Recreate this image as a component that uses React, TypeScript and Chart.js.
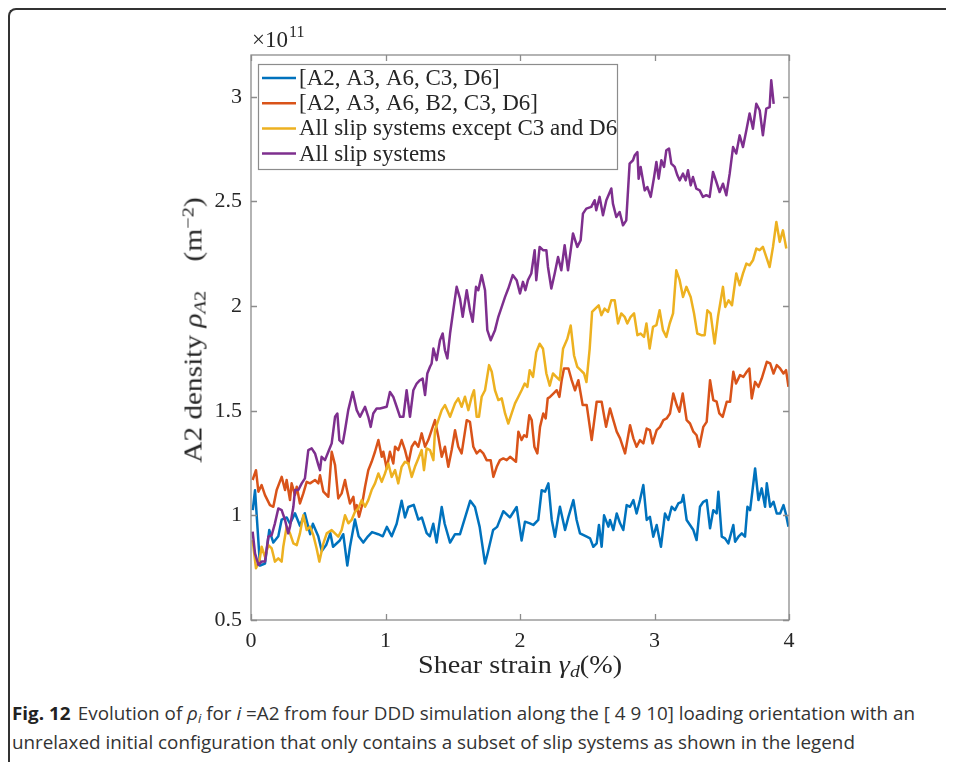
import React, { useEffect, useLayoutEffect, useRef } from "react";
import { Chart, registerables } from "chart.js";

Chart.register(...registerables);

// ---------- data ----------
const xTicks = [0, 1, 2, 3, 4];
const xTickLabels = ["0", "1", "2", "3", "4"];
const yTicks = [0.5, 1, 1.5, 2, 2.5, 3];
const yTickLabels = ["0.5", "1", "1.5", "2", "2.5", "3"];

const seriesLabels = [
  "[A2, A3, A6, C3, D6]",
  "[A2, A3, A6, B2, C3, D6]",
  "All slip systems except C3 and D6",
  "All slip systems",
];
const seriesColors = ["#0072BD", "#D95319", "#EDB120", "#7E2F8E"];

const blueSeries = [
  [0.013, 1.025], [0.03, 1.12], [0.067, 0.76], [0.104, 0.77], [0.136, 0.93], [0.166, 0.87],
  [0.203, 0.9], [0.228, 0.98], [0.265, 0.99], [0.29, 0.96], [0.327, 1.01], [0.364, 0.95],
  [0.4, 1.01], [0.44, 0.91], [0.46, 0.96], [0.5, 0.9], [0.526, 0.83], [0.56, 0.86],
  [0.59, 0.915], [0.61, 0.85], [0.66, 0.88], [0.686, 0.91], [0.716, 0.76], [0.736, 0.85],
  [0.773, 0.98], [0.8, 0.9], [0.835, 0.87], [0.87, 0.9], [0.9, 0.92], [0.946, 0.91],
  [0.98, 0.9], [1.01, 0.945], [1.046, 0.9], [1.083, 0.96], [1.12, 1.07], [1.145, 0.99],
  [1.17, 1.04], [1.21, 1.05], [1.244, 0.98], [1.27, 0.99], [1.306, 0.915], [1.33, 0.9],
  [1.355, 0.96], [1.38, 0.87], [1.418, 1.04], [1.44, 0.96], [1.48, 0.87], [1.517, 0.91],
  [1.554, 0.91], [1.63, 1.07], [1.665, 1.04], [1.7, 0.945], [1.74, 0.77], [1.76, 0.82],
  [1.8, 0.93], [1.83, 0.945], [1.876, 1.02], [1.925, 0.99], [1.975, 1.04], [2.012, 0.88],
  [2.037, 0.97], [2.074, 0.962], [2.099, 0.954], [2.136, 0.978], [2.161, 1.12], [2.186, 1.113],
  [2.211, 1.153], [2.236, 0.978], [2.26, 0.898], [2.297, 1.041], [2.335, 0.93], [2.36, 0.993],
  [2.397, 1.073], [2.421, 0.978], [2.446, 0.914], [2.496, 0.898], [2.521, 0.89], [2.545, 0.85],
  [2.57, 0.866], [2.587, 0.954], [2.607, 0.85], [2.625, 1.0], [2.657, 0.946], [2.669, 0.978],
  [2.694, 0.93], [2.719, 1.009], [2.744, 0.962], [2.768, 0.93], [2.793, 1.049], [2.818, 1.041],
  [2.843, 1.073], [2.867, 1.009], [2.892, 1.073], [2.917, 1.145], [2.942, 0.978], [2.966, 0.993],
  [2.991, 0.898], [3.016, 0.954], [3.048, 0.85], [3.078, 1.009], [3.103, 0.978], [3.128, 1.041],
  [3.152, 1.025], [3.177, 1.057], [3.202, 1.065], [3.214, 1.097], [3.239, 0.978], [3.264, 0.954],
  [3.289, 0.93], [3.313, 0.882], [3.338, 1.041], [3.363, 1.065], [3.388, 1.073], [3.413, 0.938],
  [3.437, 1.025], [3.462, 1.009], [3.475, 1.113], [3.5, 0.898], [3.524, 0.89], [3.549, 0.866],
  [3.586, 0.954], [3.599, 0.874], [3.624, 0.898], [3.649, 0.914], [3.673, 0.898], [3.691, 1.041],
  [3.711, 1.025], [3.748, 1.224], [3.773, 1.073], [3.797, 1.129], [3.822, 1.041], [3.835, 1.153],
  [3.86, 1.041], [3.885, 1.065], [3.909, 1.009], [3.934, 1.009], [3.959, 1.049], [3.976, 1.009],
  [3.996, 0.946],
];

const redSeries = [
  [0.012, 1.169], [0.037, 1.216], [0.055, 1.113], [0.079, 1.145], [0.104, 1.097], [0.141, 1.049],
  [0.166, 1.041], [0.191, 1.121], [0.228, 1.184], [0.253, 1.121], [0.265, 1.169], [0.29, 1.073],
  [0.302, 1.153], [0.327, 1.097], [0.34, 1.137], [0.364, 1.057], [0.389, 1.105], [0.414, 1.16],
  [0.439, 1.153], [0.476, 1.169], [0.501, 1.153], [0.513, 1.192], [0.538, 1.113], [0.575, 1.089],
  [0.6, 1.304], [0.625, 1.24], [0.649, 1.081], [0.674, 1.105], [0.699, 1.169], [0.711, 1.129],
  [0.736, 1.057], [0.761, 1.089], [0.773, 1.025], [0.786, 1.049], [0.803, 0.993], [0.823, 1.041],
  [0.848, 1.137], [0.872, 1.216], [0.897, 1.256], [0.922, 1.304], [0.947, 1.36], [0.972, 1.28],
  [0.984, 1.304], [1.009, 1.224], [1.033, 1.304], [1.058, 1.248], [1.071, 1.328], [1.095, 1.312],
  [1.12, 1.36], [1.145, 1.312], [1.17, 1.248], [1.195, 1.328], [1.219, 1.352], [1.244, 1.328],
  [1.269, 1.392], [1.294, 1.328], [1.318, 1.36], [1.343, 1.407], [1.368, 1.455], [1.393, 1.375],
  [1.418, 1.28], [1.442, 1.328], [1.467, 1.232], [1.492, 1.312], [1.517, 1.407], [1.541, 1.328],
  [1.566, 1.296], [1.604, 1.455], [1.628, 1.447], [1.653, 1.328], [1.678, 1.296], [1.703, 1.312],
  [1.727, 1.296], [1.752, 1.264], [1.782, 1.264], [1.802, 1.184], [1.827, 1.232], [1.851, 1.264],
  [1.876, 1.272], [1.901, 1.264], [1.926, 1.28], [1.97, 1.256], [1.988, 1.4], [2.012, 1.36],
  [2.03, 1.383], [2.05, 1.375], [2.069, 1.479], [2.087, 1.455], [2.107, 1.328], [2.129, 1.296],
  [2.149, 1.423], [2.173, 1.487], [2.191, 1.463], [2.206, 1.559], [2.223, 1.566], [2.248, 1.582],
  [2.273, 1.598], [2.293, 1.566], [2.31, 1.646], [2.327, 1.702], [2.36, 1.702], [2.384, 1.646],
  [2.409, 1.598], [2.434, 1.646], [2.466, 1.527], [2.496, 1.527], [2.533, 1.36], [2.57, 1.543],
  [2.607, 1.543], [2.62, 1.495], [2.64, 1.423], [2.669, 1.511], [2.694, 1.455], [2.719, 1.4],
  [2.744, 1.368], [2.781, 1.296], [2.818, 1.431], [2.843, 1.368], [2.867, 1.328], [2.892, 1.36],
  [2.917, 1.344], [2.942, 1.415], [2.966, 1.407], [2.986, 1.344], [3.016, 1.407], [3.041, 1.423],
  [3.066, 1.455], [3.09, 1.463], [3.115, 1.487], [3.14, 1.582], [3.165, 1.527], [3.185, 1.495],
  [3.21, 1.582], [3.239, 1.455], [3.264, 1.439], [3.289, 1.4], [3.313, 1.383], [3.333, 1.328],
  [3.363, 1.423], [3.388, 1.447], [3.413, 1.646], [3.437, 1.551], [3.462, 1.543], [3.482, 1.487],
  [3.507, 1.471], [3.537, 1.543], [3.562, 1.543], [3.586, 1.686], [3.606, 1.63], [3.636, 1.67],
  [3.661, 1.662], [3.686, 1.686], [3.705, 1.702], [3.723, 1.559], [3.748, 1.638], [3.773, 1.614],
  [3.797, 1.654], [3.835, 1.734], [3.86, 1.726], [3.885, 1.678], [3.909, 1.718], [3.934, 1.702],
  [3.959, 1.678], [3.978, 1.694], [3.996, 1.614],
];

const yellowSeries = [
  [0.012, 0.882], [0.037, 0.747], [0.062, 0.779], [0.079, 0.85], [0.104, 0.802], [0.129, 0.858],
  [0.154, 0.842], [0.178, 0.779], [0.203, 0.795], [0.228, 0.779], [0.24, 0.85], [0.265, 0.946],
  [0.29, 0.914], [0.315, 0.866], [0.34, 0.858], [0.364, 0.914], [0.389, 1.001], [0.414, 0.93],
  [0.439, 0.946], [0.463, 0.906], [0.488, 0.842], [0.508, 0.779], [0.538, 0.866], [0.563, 0.914],
  [0.6, 0.93], [0.649, 0.898], [0.674, 0.93], [0.699, 1.001], [0.724, 0.962], [0.748, 0.978],
  [0.773, 1.017], [0.798, 1.033], [0.823, 1.073], [0.848, 1.041], [0.872, 1.073], [0.897, 1.121],
  [0.922, 1.153], [0.947, 1.2], [0.972, 1.16], [0.996, 1.2], [1.021, 1.248], [1.046, 1.184],
  [1.071, 1.216], [1.095, 1.153], [1.12, 1.232], [1.145, 1.256], [1.17, 1.248], [1.195, 1.184],
  [1.219, 1.232], [1.244, 1.272], [1.269, 1.312], [1.286, 1.216], [1.306, 1.32], [1.331, 1.312],
  [1.356, 1.264], [1.368, 1.407], [1.393, 1.455], [1.418, 1.503], [1.442, 1.527], [1.48, 1.471],
  [1.517, 1.535], [1.541, 1.559], [1.566, 1.519], [1.591, 1.567], [1.616, 1.503], [1.641, 1.567],
  [1.658, 1.598], [1.678, 1.471], [1.695, 1.471], [1.715, 1.567], [1.74, 1.598], [1.77, 1.718],
  [1.79, 1.686], [1.814, 1.598], [1.839, 1.551], [1.864, 1.559], [1.889, 1.487], [1.913, 1.439],
  [1.938, 1.487], [1.963, 1.535], [1.988, 1.567], [2.012, 1.598], [2.035, 1.63], [2.055, 1.614],
  [2.072, 1.694], [2.097, 1.662], [2.121, 1.78], [2.146, 1.82], [2.171, 1.796], [2.196, 1.678],
  [2.221, 1.62], [2.245, 1.678], [2.27, 1.662], [2.295, 1.646], [2.32, 1.796], [2.352, 1.844],
  [2.377, 1.907], [2.402, 1.764], [2.426, 1.71], [2.451, 1.694], [2.476, 1.678], [2.494, 1.637],
  [2.518, 1.796], [2.536, 1.972], [2.56, 1.988], [2.585, 2.004], [2.605, 1.957], [2.629, 1.988],
  [2.654, 1.972], [2.679, 2.028], [2.704, 2.028], [2.729, 1.917], [2.753, 1.965], [2.778, 1.949],
  [2.798, 1.917], [2.823, 1.949], [2.848, 1.965], [2.873, 1.861], [2.897, 1.869], [2.922, 1.853],
  [2.94, 1.917], [2.964, 1.797], [2.989, 1.901], [3.014, 1.909], [3.038, 1.98], [3.063, 1.885],
  [3.088, 1.853], [3.113, 1.917], [3.138, 1.965], [3.162, 2.171], [3.187, 2.124], [3.212, 2.044],
  [3.237, 2.092], [3.269, 2.044], [3.294, 1.965], [3.318, 1.869], [3.348, 1.861], [3.373, 1.861],
  [3.393, 1.98], [3.417, 1.965], [3.447, 1.821], [3.472, 1.949], [3.509, 2.092], [3.526, 1.996],
  [3.551, 2.028], [3.576, 2.004], [3.608, 2.156], [3.633, 2.1], [3.658, 2.156], [3.683, 2.203],
  [3.707, 2.195], [3.732, 2.219], [3.757, 2.275], [3.782, 2.267], [3.806, 2.283], [3.831, 2.235],
  [3.856, 2.187], [3.881, 2.283], [3.906, 2.402], [3.931, 2.307], [3.955, 2.362], [3.98, 2.275],
];

const purpleSeries = [
  [0.012, 0.922], [0.03, 0.818], [0.055, 0.763], [0.079, 0.779], [0.104, 0.779], [0.129, 0.898],
  [0.154, 0.906], [0.178, 0.962], [0.203, 1.033], [0.228, 1.025], [0.253, 0.978], [0.277, 0.914],
  [0.29, 0.946], [0.315, 1.041], [0.327, 1.121], [0.352, 1.121], [0.377, 1.153], [0.401, 1.177],
  [0.426, 1.312], [0.451, 1.32], [0.476, 1.296], [0.501, 1.24], [0.513, 1.216], [0.525, 1.28],
  [0.55, 1.264], [0.575, 1.304], [0.6, 1.344], [0.625, 1.471], [0.642, 1.487], [0.657, 1.36],
  [0.682, 1.344], [0.699, 1.407], [0.723, 1.503], [0.756, 1.59], [0.786, 1.503], [0.81, 1.471],
  [0.848, 1.519], [0.872, 1.471], [0.89, 1.423], [0.909, 1.487], [0.934, 1.511], [0.959, 1.511],
  [1.009, 1.519], [1.033, 1.59], [1.058, 1.566], [1.083, 1.519], [1.108, 1.471], [1.133, 1.471],
  [1.157, 1.598], [1.182, 1.471], [1.207, 1.598], [1.232, 1.63], [1.256, 1.646], [1.276, 1.654],
  [1.294, 1.575], [1.311, 1.678], [1.331, 1.71], [1.343, 1.726], [1.356, 1.797], [1.38, 1.742],
  [1.405, 1.837], [1.425, 1.869], [1.442, 1.789], [1.46, 1.75], [1.48, 1.869], [1.504, 1.98],
  [1.529, 2.092], [1.554, 2.036], [1.574, 1.949], [1.604, 2.076], [1.628, 1.98], [1.648, 1.925],
  [1.673, 2.092], [1.69, 2.076], [1.715, 2.148], [1.74, 2.076], [1.757, 1.885], [1.782, 1.837],
  [1.814, 1.885], [1.839, 1.949], [1.864, 1.996], [1.889, 2.044], [1.913, 2.084], [1.946, 2.148],
  [1.975, 2.124], [2.0, 2.06], [2.022, 2.116], [2.04, 2.076], [2.059, 2.124], [2.084, 2.156],
  [2.109, 2.267], [2.121, 2.124], [2.146, 2.283], [2.171, 2.267], [2.196, 2.267], [2.208, 2.187],
  [2.233, 2.084], [2.258, 2.156], [2.283, 2.235], [2.307, 2.171], [2.332, 2.291], [2.357, 2.171],
  [2.377, 2.267], [2.394, 2.347], [2.426, 2.283], [2.451, 2.315], [2.468, 2.442], [2.493, 2.466],
  [2.53, 2.474], [2.555, 2.506], [2.567, 2.458], [2.592, 2.522], [2.617, 2.434], [2.642, 2.506],
  [2.679, 2.562], [2.691, 2.49], [2.716, 2.426], [2.741, 2.45], [2.766, 2.386], [2.79, 2.41],
  [2.815, 2.681], [2.84, 2.697], [2.853, 2.721], [2.873, 2.736], [2.882, 2.609], [2.897, 2.665],
  [2.927, 2.553], [2.947, 2.569], [2.972, 2.522], [2.997, 2.617], [3.014, 2.689], [3.031, 2.609],
  [3.051, 2.697], [3.071, 2.665], [3.088, 2.745], [3.108, 2.753], [3.125, 2.681], [3.15, 2.665],
  [3.17, 2.625], [3.187, 2.601], [3.212, 2.633], [3.232, 2.601], [3.249, 2.649], [3.269, 2.577],
  [3.286, 2.617], [3.311, 2.561], [3.336, 2.553], [3.36, 2.522], [3.385, 2.53], [3.41, 2.522],
  [3.435, 2.641], [3.46, 2.593], [3.484, 2.545], [3.509, 2.585], [3.534, 2.53], [3.559, 2.633],
  [3.584, 2.76], [3.608, 2.729], [3.633, 2.816], [3.658, 2.76], [3.683, 2.84], [3.707, 2.92],
  [3.732, 2.848], [3.757, 2.967], [3.782, 2.936], [3.806, 2.816], [3.831, 2.944], [3.856, 2.951],
  [3.868, 3.079], [3.886, 2.967],
];

const allSeries = [blueSeries, redSeries, yellowSeries, purpleSeries];

// ---------- styling ----------
const SERIF = "'Liberation Serif', 'Times New Roman', serif";
const AXIS_GRAY = "#8c8c8c";
const TEXT_DARK = "#262626";

const matlabAxesPlugin = {
  id: "matlabAxes",
  afterDatasetsDraw(chart: any) {
    const { ctx, chartArea: a, scales } = chart;
    const xs = scales.x;
    const ys = scales.y;
    ctx.save();
    // axes box
    ctx.strokeStyle = AXIS_GRAY;
    ctx.lineWidth = 1.3;
    ctx.strokeRect(a.left, a.top, a.right - a.left, a.bottom - a.top);
    // inward ticks on all four sides
    const L = 6;
    ctx.beginPath();
    xTicks.forEach((v) => {
      const px = Math.round(xs.getPixelForValue(v)) + 0.5;
      ctx.moveTo(px, a.bottom);
      ctx.lineTo(px, a.bottom - L);
      ctx.moveTo(px, a.top);
      ctx.lineTo(px, a.top + L);
    });
    yTicks.forEach((v) => {
      const py = Math.round(ys.getPixelForValue(v)) + 0.5;
      ctx.moveTo(a.left, py);
      ctx.lineTo(a.left + L, py);
      ctx.moveTo(a.right, py);
      ctx.lineTo(a.right - L, py);
    });
    ctx.stroke();

    // exponent label ×10^11 (just above the axes box)
    ctx.fillStyle = TEXT_DARK;
    ctx.textBaseline = "alphabetic";
    ctx.textAlign = "left";
    ctx.font = `23px ${SERIF}`;
    const ex = a.left + 1;
    const ey = a.top - 8;
    ctx.fillText("×10", ex, ey);
    const w = ctx.measureText("×10").width;
    ctx.font = `16px ${SERIF}`;
    ctx.fillText("11", ex + w + 1, ey - 10);

    // legend box
    const bx = a.left + 7;
    const by = a.top + 9;
    const bw = 359;
    const bh = 105;
    ctx.fillStyle = "#ffffff";
    ctx.fillRect(bx, by, bw, bh);
    ctx.strokeStyle = AXIS_GRAY;
    ctx.lineWidth = 1.2;
    ctx.strokeRect(bx + 0.5, by + 0.5, bw, bh);
    ctx.font = `23px ${SERIF}`;
    ctx.textBaseline = "middle";
    chart.data.datasets.forEach((ds: any, i: number) => {
      const cy = by + 14 + i * 25.2;
      ctx.strokeStyle = ds.borderColor;
      ctx.lineWidth = 2.5;
      ctx.beginPath();
      ctx.moveTo(bx + 4, cy);
      ctx.lineTo(bx + 38, cy);
      ctx.stroke();
      ctx.fillStyle = TEXT_DARK;
      ctx.fillText(ds.label, bx + 41, cy + 1);
    });
    ctx.restore();
  },
};

export default function App() {
  const canvasRef = useRef<HTMLCanvasElement | null>(null);
  const cap1 = useRef<HTMLSpanElement | null>(null);
  const cap2 = useRef<HTMLSpanElement | null>(null);
  const yTitle = useRef<HTMLDivElement | null>(null);
  const xTitle = useRef<HTMLDivElement | null>(null);

  useEffect(() => {
    const canvas = canvasRef.current;
    if (!canvas) return;
    const chart = new Chart(canvas, {
      type: "line",
      data: {
        datasets: allSeries.map((s, i) => ({
          label: seriesLabels[i],
          data: s.map(([x, y]) => ({ x, y })),
          borderColor: seriesColors[i],
          backgroundColor: seriesColors[i],
          borderWidth: 2.5,
          pointRadius: 0,
          pointHoverRadius: 0,
          tension: 0,
          fill: false,
          order: 4 - i,
          borderJoinStyle: "round" as const,
        })),
      },
      options: {
        responsive: false,
        animation: false,
        devicePixelRatio: 1,
        layout: { padding: { left: 0, right: 119, top: 47, bottom: 0 } },
        plugins: {
          legend: { display: false },
          tooltip: { enabled: false },
          title: { display: false },
        },
        scales: {
          x: {
            type: "linear",
            min: 0,
            max: 4,
            afterBuildTicks: (s: any) => {
              s.ticks = xTicks.map((v) => ({ value: v }));
            },
            afterFit: (s: any) => {
              s.height = 78;
            },
            grid: { display: false, drawTicks: false },
            border: { display: false },
            ticks: {
              autoSkip: false,
              maxRotation: 0,
              padding: 8,
              color: TEXT_DARK,
              font: { family: SERIF, size: 22 },
              callback: (v: any) => xTickLabels[xTicks.indexOf(Number(v))] ?? "",
            },
          },
          y: {
            type: "linear",
            min: 0.5,
            max: 3.2,
            afterBuildTicks: (s: any) => {
              s.ticks = yTicks.map((v) => ({ value: v }));
            },
            afterFit: (s: any) => {
              s.width = 243;
            },
            grid: { display: false, drawTicks: false },
            border: { display: false },
            ticks: {
              autoSkip: false,
              padding: 9,
              color: TEXT_DARK,
              font: { family: SERIF, size: 22 },
              callback: (v: any) => yTickLabels[yTicks.indexOf(Number(v))] ?? "",
            },
          },
        },
      },
      plugins: [matlabAxesPlugin],
    });
    return () => chart.destroy();
  }, []);

  useLayoutEffect(() => {
    const a = cap1.current;
    const b = cap2.current;
    if (a && b) {
      const w = a.getBoundingClientRect().width;
      const s = 903 / w;
      a.style.transform = `scaleX(${s})`;
      b.style.transform = `scaleX(${s})`;
    }
    const yt = yTitle.current;
    if (yt) {
      const s = 265 / yt.offsetWidth;
      yt.style.transform = `translate(-50%, -50%) rotate(-90deg) scaleX(${s})`;
    }
    const xt = xTitle.current;
    if (xt) {
      const s = 204 / xt.offsetWidth;
      xt.style.transform = `translate(-50%, -50%) scaleX(${s})`;
    }
  }, []);

  const serifText: React.CSSProperties = {
    fontFamily: SERIF,
    color: TEXT_DARK,
    whiteSpace: "nowrap",
    position: "absolute",
    lineHeight: 1,
  };
  const capStyle: React.CSSProperties = {
    position: "absolute",
    left: 4,
    fontFamily: "'Open Sans', 'Noto Sans', sans-serif",
    fontSize: 18,
    lineHeight: "20px",
    color: "#333",
    whiteSpace: "nowrap",
    display: "inline-block",
    transformOrigin: "left center",
  };
  const sub: React.CSSProperties = { fontSize: "0.7em", verticalAlign: "-0.25em", lineHeight: 0 };
  const sup: React.CSSProperties = { fontSize: "0.7em", verticalAlign: "0.45em", lineHeight: 0 };

  return (
    <div style={{ position: "relative", width: 946, height: 754, overflow: "hidden", background: "#fff" }}>
      <div
        style={{
          position: "absolute",
          left: 0,
          top: 0,
          width: 990,
          height: 800,
          borderTop: "2px solid #333",
          borderLeft: "2px solid #333",
          borderTopLeftRadius: 8,
          boxSizing: "border-box",
        }}
      />
      <canvas
        ref={canvasRef}
        width={900}
        height={690}
        style={{ position: "absolute", left: 0, top: 0, width: 900, height: 690 }}
      />
      {/* y axis title */}
      <div
        ref={yTitle}
        style={{
          ...serifText,
          fontSize: 25,
          left: 185,
          top: 322,
          transform: "translate(-50%, -50%) rotate(-90deg)",
        }}
      >
        A2 density <i>ρ</i>
        <span style={sub}>
          <i>A</i>2
        </span>
        &nbsp;&nbsp;&nbsp;&nbsp;(m<span style={sup}>−2</span>)
      </div>
      {/* x axis title */}
      <div
        ref={xTitle}
        style={{
          ...serifText,
          fontSize: 25,
          left: 512,
          top: 656,
          transform: "translate(-50%, -50%)",
        }}
      >
        Shear strain <i>γ</i>
        <span style={sub}>
          <i>d</i>
        </span>
        (%)
      </div>
      {/* caption */}
      <span ref={cap1} style={{ ...capStyle, top: 695 }}>
        <b style={{ color: "#222", marginRight: 7 }}>Fig. 12</b>Evolution of{" "}
        <i>ρ</i>
        <span style={sub}>
          <i>i</i>
        </span>{" "}
        for <i>i</i> =A2 from four DDD simulation along the [ 4 9 10] loading orientation with an
      </span>
      <span ref={cap2} style={{ ...capStyle, top: 724 }}>
        unrelaxed initial configuration that only contains a subset of slip systems as shown in the legend
      </span>
    </div>
  );
}
